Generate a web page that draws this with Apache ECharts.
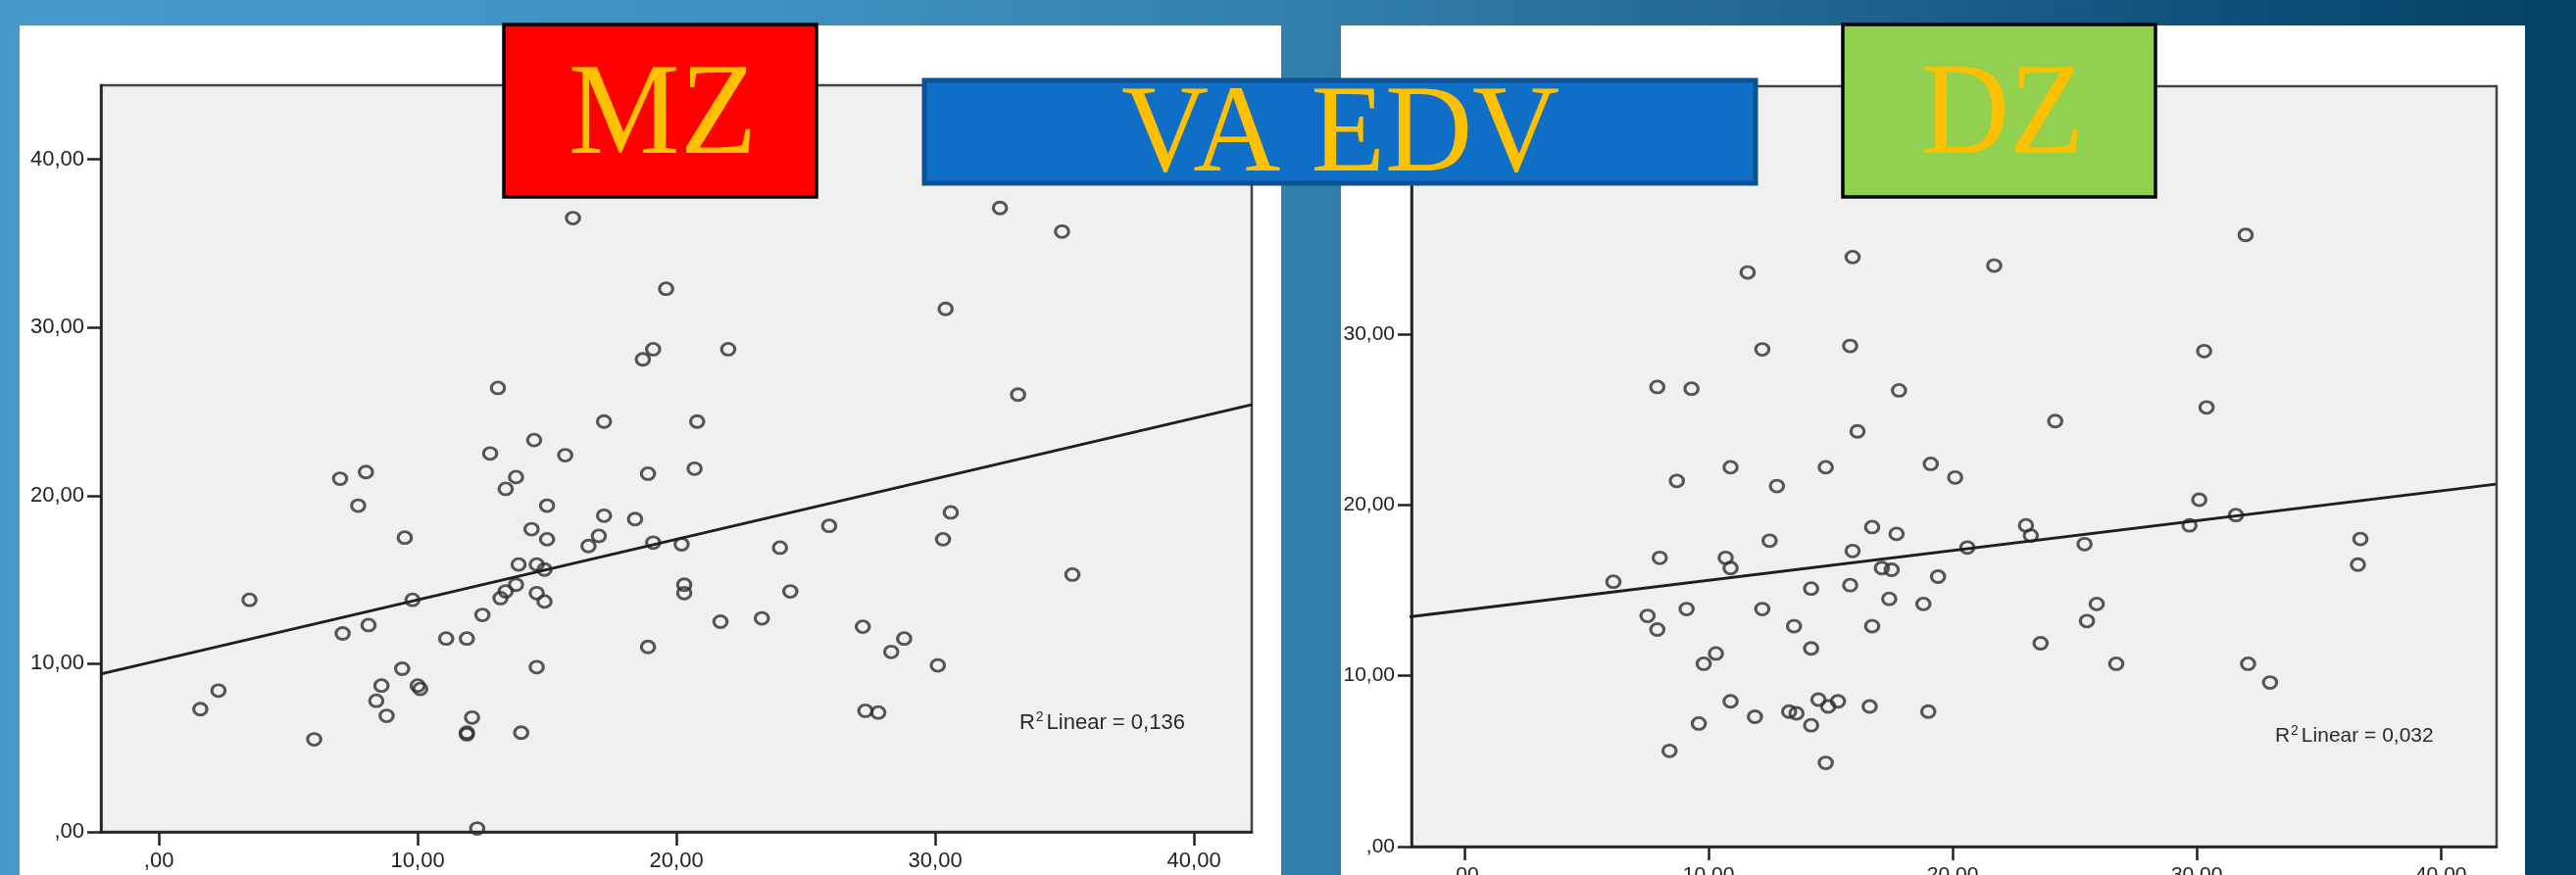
<!DOCTYPE html>
<html>
<head>
<meta charset="utf-8">
<title>VA EDV – MZ / DZ</title>
<script src="https://cdn.jsdelivr.net/npm/echarts@6/dist/echarts.min.js"></script>
<style>
  html, body { margin: 0; padding: 0; background: #2f7eab; }
  #main { width: 2628px; height: 893px; }
</style>
</head>
<body>
<div id="main"></div>
<script>
// Scatter pairs [x, y] for the MZ panel
const mzPoints = [
  [16.0, 36.5], [32.5, 37.1], [34.9, 35.7], [19.6, 32.3], [30.4, 31.1],
  [19.1, 28.7], [18.7, 28.1], [22.0, 28.7], [13.1, 26.4], [33.2, 26.0],
  [17.2, 24.4], [20.8, 24.4], [14.5, 23.3], [12.8, 22.5], [15.7, 22.4],
  [8.0, 21.4], [7.0, 21.0], [13.8, 21.1], [18.9, 21.3], [20.7, 21.6],
  [13.4, 20.4], [7.7, 19.4], [15.0, 19.4], [17.2, 18.8], [18.4, 18.6],
  [30.6, 19.0], [25.9, 18.2], [14.4, 18.0], [9.5, 17.5], [15.0, 17.4],
  [17.0, 17.6], [16.6, 17.0], [19.1, 17.2], [20.2, 17.1], [24.0, 16.9],
  [30.3, 17.4], [13.9, 15.9], [14.6, 15.9], [14.9, 15.6], [35.3, 15.3],
  [13.8, 14.7], [13.4, 14.3], [13.2, 13.9], [14.6, 14.2], [14.9, 13.7],
  [9.8, 13.8], [3.5, 13.8], [20.3, 14.7], [20.3, 14.2], [24.4, 14.3],
  [12.5, 12.9], [21.7, 12.5], [23.3, 12.7], [8.1, 12.3], [7.1, 11.8],
  [11.1, 11.5], [11.9, 11.5], [27.2, 12.2], [28.8, 11.5], [28.3, 10.7],
  [18.9, 11.0], [30.1, 9.9], [9.4, 9.7], [14.6, 9.8], [2.3, 8.4],
  [8.6, 8.7], [10.0, 8.7], [10.1, 8.5], [8.4, 7.8], [1.6, 7.3],
  [8.8, 6.9], [27.3, 7.2], [27.8, 7.1], [12.1, 6.8], [11.9, 5.9],
  [11.9, 5.8], [14.0, 5.9], [6.0, 5.5], [12.3, 0.2]
];

// Scatter pairs [x, y] for the DZ panel
const dzPoints = [
  [32.0, 35.8], [15.9, 34.5], [11.6, 33.6], [21.7, 34.0], [12.2, 29.1],
  [15.8, 29.3], [30.3, 29.0], [7.9, 26.9], [9.3, 26.8], [17.8, 26.7],
  [30.4, 25.7], [24.2, 24.9], [16.1, 24.3], [19.1, 22.4], [10.9, 22.2],
  [14.8, 22.2], [8.7, 21.4], [12.8, 21.1], [20.1, 21.6], [30.1, 20.3],
  [31.6, 19.4], [23.0, 18.8], [29.7, 18.8], [16.7, 18.7], [17.7, 18.3],
  [23.2, 18.2], [12.5, 17.9], [25.4, 17.7], [20.6, 17.5], [36.7, 18.0],
  [15.9, 17.3], [8.0, 16.9], [10.7, 16.9], [10.9, 16.3], [17.1, 16.3],
  [17.5, 16.2], [36.6, 16.5], [6.1, 15.5], [19.4, 15.8], [14.2, 15.1],
  [15.8, 15.3], [17.4, 14.5], [18.8, 14.2], [25.9, 14.2], [9.1, 13.9],
  [12.2, 13.9], [7.5, 13.5], [25.5, 13.2], [7.9, 12.7], [13.5, 12.9],
  [16.7, 12.9], [23.6, 11.9], [10.3, 11.3], [14.2, 11.6], [9.8, 10.7],
  [26.7, 10.7], [32.1, 10.7], [33.0, 9.6], [10.9, 8.5], [14.5, 8.6],
  [15.3, 8.5], [14.9, 8.2], [16.6, 8.2], [13.3, 7.9], [13.6, 7.8],
  [19.0, 7.9], [11.9, 7.6], [9.6, 7.2], [14.2, 7.1], [8.4, 5.6],
  [14.8, 4.9]
];

// Linear fit lines, end points at the axis limits
const mzFit = [[-2.25, 9.39], [42.25, 25.41]];
const dzFit = [[-2.25, 13.44], [42.25, 21.21]];

// Fit annotations
const mzR2 = '0,136';
const dzR2 = '0,032';
const r2Anchor = [36.45, 6.45];

// Axis ticks and their labels
const tickValues = [0, 10, 20, 30, 40];
const tickLabels = [',00', '10,00', '20,00', '30,00', '40,00'];

// Panel headings
const leftHeading = 'MZ';
const rightHeading = 'DZ';
const mainHeading = 'VA EDV';

const SANS = '"Liberation Sans", Arial, sans-serif';
const SERIF = '"Liberation Serif", "Times New Roman", serif';
const fmtTick = v => tickLabels[tickValues.indexOf(v)];

// Size a heading so its ink fills the given box (pixel extents of the glyphs).
// zrender draws single-line text with a 'middle' baseline at the element's y.
function fitHeading(text, ink) {
  const ctx = document.createElement('canvas').getContext('2d');
  ctx.textAlign = 'center';
  ctx.textBaseline = 'middle';
  ctx.font = '100px ' + SERIF;
  let m = ctx.measureText(text);
  const size = 100 * (ink.bottom - ink.top) / (m.actualBoundingBoxAscent + m.actualBoundingBoxDescent);
  ctx.font = size.toFixed(2) + 'px ' + SERIF;
  m = ctx.measureText(text);
  const l = m.actualBoundingBoxLeft, r = m.actualBoundingBoxRight;
  const sx = (ink.right - ink.left) / (l + r);
  return {
    type: 'text', z: 101,
    x: ink.left + sx * l,
    y: ink.top + m.actualBoundingBoxAscent,
    scaleX: sx,
    style: { text, fill: '#ffc000', font: size.toFixed(2) + 'px ' + SERIF, align: 'center', verticalAlign: 'middle' }
  };
}

function xAxisFor(gridIndex, min, max, fontSize) {
  return {
    gridIndex, type: 'value', min, max,
    axisLine: { show: true, onZero: false, lineStyle: { color: '#222', width: 2.5 } },
    axisTick: { show: true, customValues: tickValues, length: 14, lineStyle: { color: '#222', width: 2.5 } },
    axisLabel: { customValues: tickValues, formatter: fmtTick, margin: 19, fontSize, color: '#222', fontFamily: SANS },
    splitLine: { show: false }
  };
}
function yAxisFor(gridIndex, min, max, fontSize) {
  return {
    gridIndex, type: 'value', min, max,
    axisLine: { show: true, onZero: false, lineStyle: { color: '#222', width: 2.5 } },
    axisTick: { show: true, customValues: tickValues, length: 14, lineStyle: { color: '#222', width: 2.5 } },
    axisLabel: { customValues: tickValues, formatter: fmtTick, margin: 17, fontSize, color: '#222', fontFamily: SANS },
    splitLine: { show: false }
  };
}

const circleStyle = {
  color: 'rgba(0,0,0,0)',
  borderColor: '#2e2e2e',
  borderWidth: 3
};

function r2Mark(value, fontSize) {
  return {
    silent: true,
    symbol: 'circle',
    symbolSize: 1,
    itemStyle: { color: 'rgba(0,0,0,0)' },
    label: {
      show: true,
      position: 'inside',
      formatter: '{r|R}{s|2}{r|Linear = ' + value + '}',
      rich: {
        r: { fontSize, fontFamily: SANS, color: '#2a2a2a', lineHeight: fontSize + 4 },
        s: { fontSize: Math.round(fontSize * 0.65), fontFamily: SANS, color: '#2a2a2a', verticalAlign: 'top', padding: [0, 3, 0, 1] }
      }
    },
    data: [{ coord: r2Anchor }]
  };
}

const chart = echarts.init(document.getElementById('main'));

chart.setOption({
  animation: false,
  graphic: [
    // slide background
    { type: 'rect', z: -100, shape: { x: 0, y: 0, width: 2628, height: 893 },
      style: { fill: new echarts.graphic.LinearGradient(0, 0, 1, 0, [
        { offset: 0, color: '#479bcb' },
        { offset: 0.3, color: '#3f90c1' },
        { offset: 0.5, color: '#3380ac' },
        { offset: 0.75, color: '#1b5f8b' },
        { offset: 0.9, color: '#0b4b74' },
        { offset: 1, color: '#054066' }
      ]) } },
    // white chart panels
    { type: 'rect', z: -90, shape: { x: 20, y: 26, width: 1287, height: 867 }, style: { fill: '#ffffff' } },
    { type: 'rect', z: -90, shape: { x: 1368, y: 26, width: 1208, height: 867 }, style: { fill: '#ffffff' } },
    // heading boxes
    { type: 'rect', z: 100, shape: { x: 514, y: 25, width: 319, height: 176 },
      style: { fill: '#ff0000', stroke: '#000', lineWidth: 3.5 } },
    fitHeading(leftHeading, { left: 583, right: 766, top: 68, bottom: 156 }),
    { type: 'rect', z: 100, shape: { x: 943, y: 82, width: 848, height: 105 },
      style: { fill: '#0f6fc6', stroke: '#0b5293', lineWidth: 5 } },
    fitHeading(mainHeading, { left: 1145, right: 1590, top: 90, bottom: 177 }),
    { type: 'rect', z: 100, shape: { x: 1880, y: 25, width: 319, height: 176 },
      style: { fill: '#92d050', stroke: '#000', lineWidth: 3.5 } },
    fitHeading(rightHeading, { left: 1963, right: 2120, top: 68, bottom: 156 })
  ],
  grid: [
    { left: 103, top: 87, width: 1174, height: 762, outerBoundsMode: 'none', containLabel: false,
      show: true, backgroundColor: '#f0f0f0', borderColor: '#444', borderWidth: 2.5 },
    { left: 1440, top: 88, width: 1107, height: 776, outerBoundsMode: 'none', containLabel: false,
      show: true, backgroundColor: '#f0f0f0', borderColor: '#444', borderWidth: 2.5 }
  ],
  xAxis: [
    xAxisFor(0, -2.24, 42.23, 22),
    xAxisFor(1, -2.17, 42.28, 21)
  ],
  yAxis: [
    yAxisFor(0, 0, 44.4, 22),
    yAxisFor(1, 0, 44.5, 21)
  ],
  series: [
    { type: 'scatter', xAxisIndex: 0, yAxisIndex: 0, data: mzPoints, silent: true,
      symbol: 'circle', symbolSize: [13.5, 12], itemStyle: circleStyle },
    { type: 'line', xAxisIndex: 0, yAxisIndex: 0, data: mzFit, silent: true, showSymbol: false,
      lineStyle: { color: '#1e1e1e', width: 3 }, markPoint: r2Mark(mzR2, 22) },
    { type: 'scatter', xAxisIndex: 1, yAxisIndex: 1, data: dzPoints, silent: true,
      symbol: 'circle', symbolSize: [13.5, 12], itemStyle: circleStyle },
    { type: 'line', xAxisIndex: 1, yAxisIndex: 1, data: dzFit, silent: true, showSymbol: false,
      lineStyle: { color: '#1e1e1e', width: 3 }, markPoint: r2Mark(dzR2, 21) }
  ]
});
</script>
</body>
</html>
